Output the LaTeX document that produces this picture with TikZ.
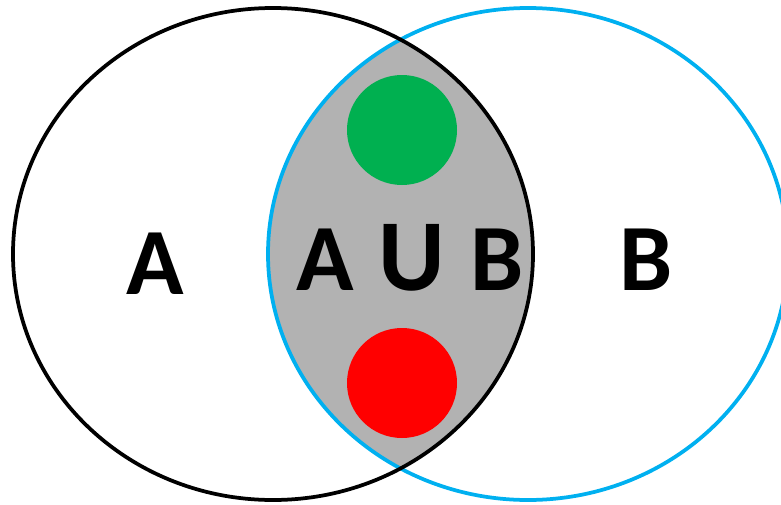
\documentclass[tikz,border=0pt]{standalone}
\usepackage{fontspec}
\setmainfont{Carlito}
\definecolor{setblue}{RGB}{0,176,240}
\definecolor{dotgreen}{RGB}{0,176,80}
\definecolor{dotred}{RGB}{255,0,0}
\definecolor{meetgray}{RGB}{178,178,178}

\begin{document}
\begin{tikzpicture}[
    x=0.03cm, y=-0.03cm,
    setline/.style={line width=3.2pt},
    dot/.style={circle, minimum size=110*0.03cm, inner sep=0pt},
    setlabel/.style={font=\fontsize{81}{81}\selectfont\bfseries, inner sep=0pt, anchor=base}
]
\useasboundingbox (0,0) rectangle (781,505);

\coordinate (ca) at (273,254);
\coordinate (cb) at (528,254);

% shaded intersection
\begin{scope}
    \clip (ca) ellipse [x radius=260, y radius=246];
    \fill[meetgray] (cb) ellipse [x radius=260, y radius=246];
\end{scope}

\node[dot, fill=dotgreen] (green) at (402,130) {};
\node[dot, fill=dotred] (red) at (402,383) {};

\draw[setline, setblue] (cb) ellipse [x radius=260, y radius=246];
\draw[setline, black] (ca) ellipse [x radius=260, y radius=246];

\node[setlabel] (labela) at (155,294) {A};
\node[setlabel] (labelab) at (410,290)
    {A\hspace{0.26em}{\fontsize{87}{87}\selectfont U}\hspace{0.26em}B};
\node[setlabel] (labelb) at (646,290) {B};

\end{tikzpicture}
\end{document}
